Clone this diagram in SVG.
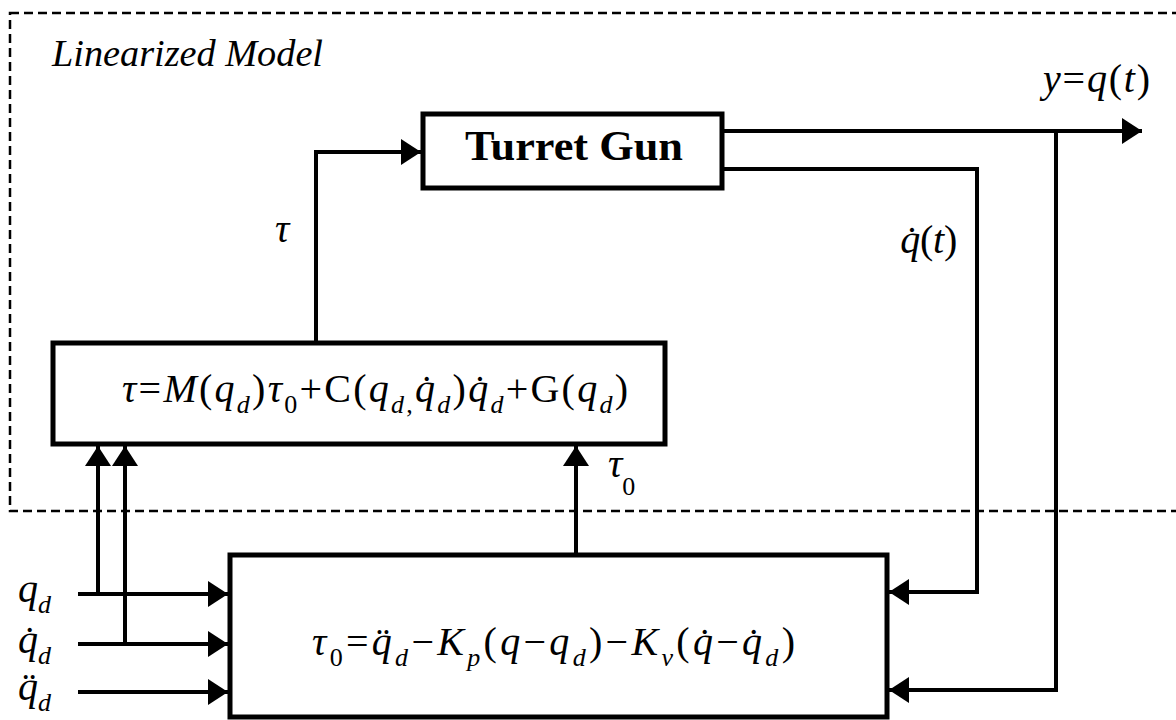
<svg xmlns="http://www.w3.org/2000/svg" width="1176" height="720" viewBox="0 0 1176 720">
<defs>
<marker id="ah" markerUnits="userSpaceOnUse" markerWidth="22" markerHeight="28" refX="20" refY="13" orient="auto">
<path d="M0,0 L20,13 L0,26 Z" fill="#000"/>
</marker>
<style>
.box{fill:#fff;stroke:#000;stroke-width:5}
.ln{fill:none;stroke:#000;stroke-width:4}
.m{font-family:'Liberation Serif',serif;font-style:italic;font-size:40px;fill:#000}
.r{font-style:normal}
.sub{font-size:26px}
</style>
</defs>
<rect width="1176" height="720" fill="#fff"/>
<rect id="region" x="10" y="13" width="1190" height="498" fill="none" stroke="#000" stroke-width="2.5" stroke-dasharray="9,5"/>
<text x="52" y="66" font-family="'Liberation Serif', serif" font-style="italic" font-size="37" textLength="271" lengthAdjust="spacingAndGlyphs">Linearized Model</text>

<g id="connectors">
<polyline class="ln" points="316,343 316,152 421,152" marker-end="url(#ah)"/>
<polyline class="ln" points="722,131 1142,131" marker-end="url(#ah)"/>
<polyline class="ln" points="722,169 977,169 977,592 889,592" marker-end="url(#ah)"/>
<polyline class="ln" points="1056,131 1056,690 889,690" marker-end="url(#ah)"/>
<polyline class="ln" points="576,555 576,446" marker-end="url(#ah)"/>
<polyline class="ln" points="78,594 228,594" marker-end="url(#ah)"/>
<polyline class="ln" points="78,644 228,644" marker-end="url(#ah)"/>
<polyline class="ln" points="78,692 228,692" marker-end="url(#ah)"/>
<polyline class="ln" points="98,594 98,446" marker-end="url(#ah)"/>
<polyline class="ln" points="125,644 125,446" marker-end="url(#ah)"/>
</g>

<g id="turret">
<rect class="box" x="423" y="114" width="299" height="74"/>
<text x="465" y="160" font-family="'Liberation Serif', serif" font-weight="bold" font-size="42" textLength="218" lengthAdjust="spacingAndGlyphs">Turret Gun</text>
</g>

<g id="computed-torque">
<rect class="box" x="53" y="343" width="612" height="101"/>
<text class="m" x="122" y="402" textLength="506" lengthAdjust="spacing">τ<tspan class="r">=</tspan>M<tspan class="r">(</tspan>q<tspan class="sub" dy="11">d</tspan><tspan class="r" dy="-11">)</tspan>τ<tspan class="sub r" dy="11">0</tspan><tspan class="r" dy="-11">+C(</tspan>q<tspan class="sub" dy="11">d</tspan><tspan class="sub r">,</tspan><tspan dy="-11">q̇</tspan><tspan class="sub" dy="11">d</tspan><tspan class="r" dy="-11">)</tspan>q̇<tspan class="sub" dy="11">d</tspan><tspan class="r" dy="-11">+G(</tspan>q<tspan class="sub" dy="11">d</tspan><tspan class="r" dy="-11">)</tspan></text>
</g>

<g id="pd-controller">
<rect class="box" x="230" y="555" width="657" height="162"/>
<text class="m" x="312" y="655" textLength="483" lengthAdjust="spacing">τ<tspan class="sub r" dy="11">0</tspan><tspan class="r" dy="-11">=</tspan>q̈<tspan class="sub" dy="11">d</tspan><tspan class="r" dy="-11">−</tspan>K<tspan class="sub" dy="11">p</tspan><tspan class="r" dy="-11">(</tspan>q<tspan class="r">−</tspan>q<tspan class="sub" dy="11">d</tspan><tspan class="r" dy="-11">)−</tspan>K<tspan class="sub" dy="11">v</tspan><tspan class="r" dy="-11">(</tspan>q̇<tspan class="r">−</tspan>q̇<tspan class="sub" dy="11">d</tspan><tspan class="r" dy="-11">)</tspan></text>
</g>

<g id="labels">
<text class="m" x="275" y="242">τ</text>
<text class="m" x="608" y="477">τ<tspan class="sub r" dy="18">0</tspan></text>
<text class="m" x="1043" y="92" textLength="107" lengthAdjust="spacing">y<tspan class="r">=</tspan>q<tspan class="r">(</tspan>t<tspan class="r">)</tspan></text>
<text class="m" x="900" y="253" textLength="57" lengthAdjust="spacing">q̇<tspan class="r">(</tspan>t<tspan class="r">)</tspan></text>
<text class="m" x="18" y="602">q<tspan class="sub" dy="11">d</tspan></text>
<text class="m" x="18" y="653">q̇<tspan class="sub" dy="11">d</tspan></text>
<text class="m" x="18" y="700">q̈<tspan class="sub" dy="11">d</tspan></text>
</g>
</svg>
